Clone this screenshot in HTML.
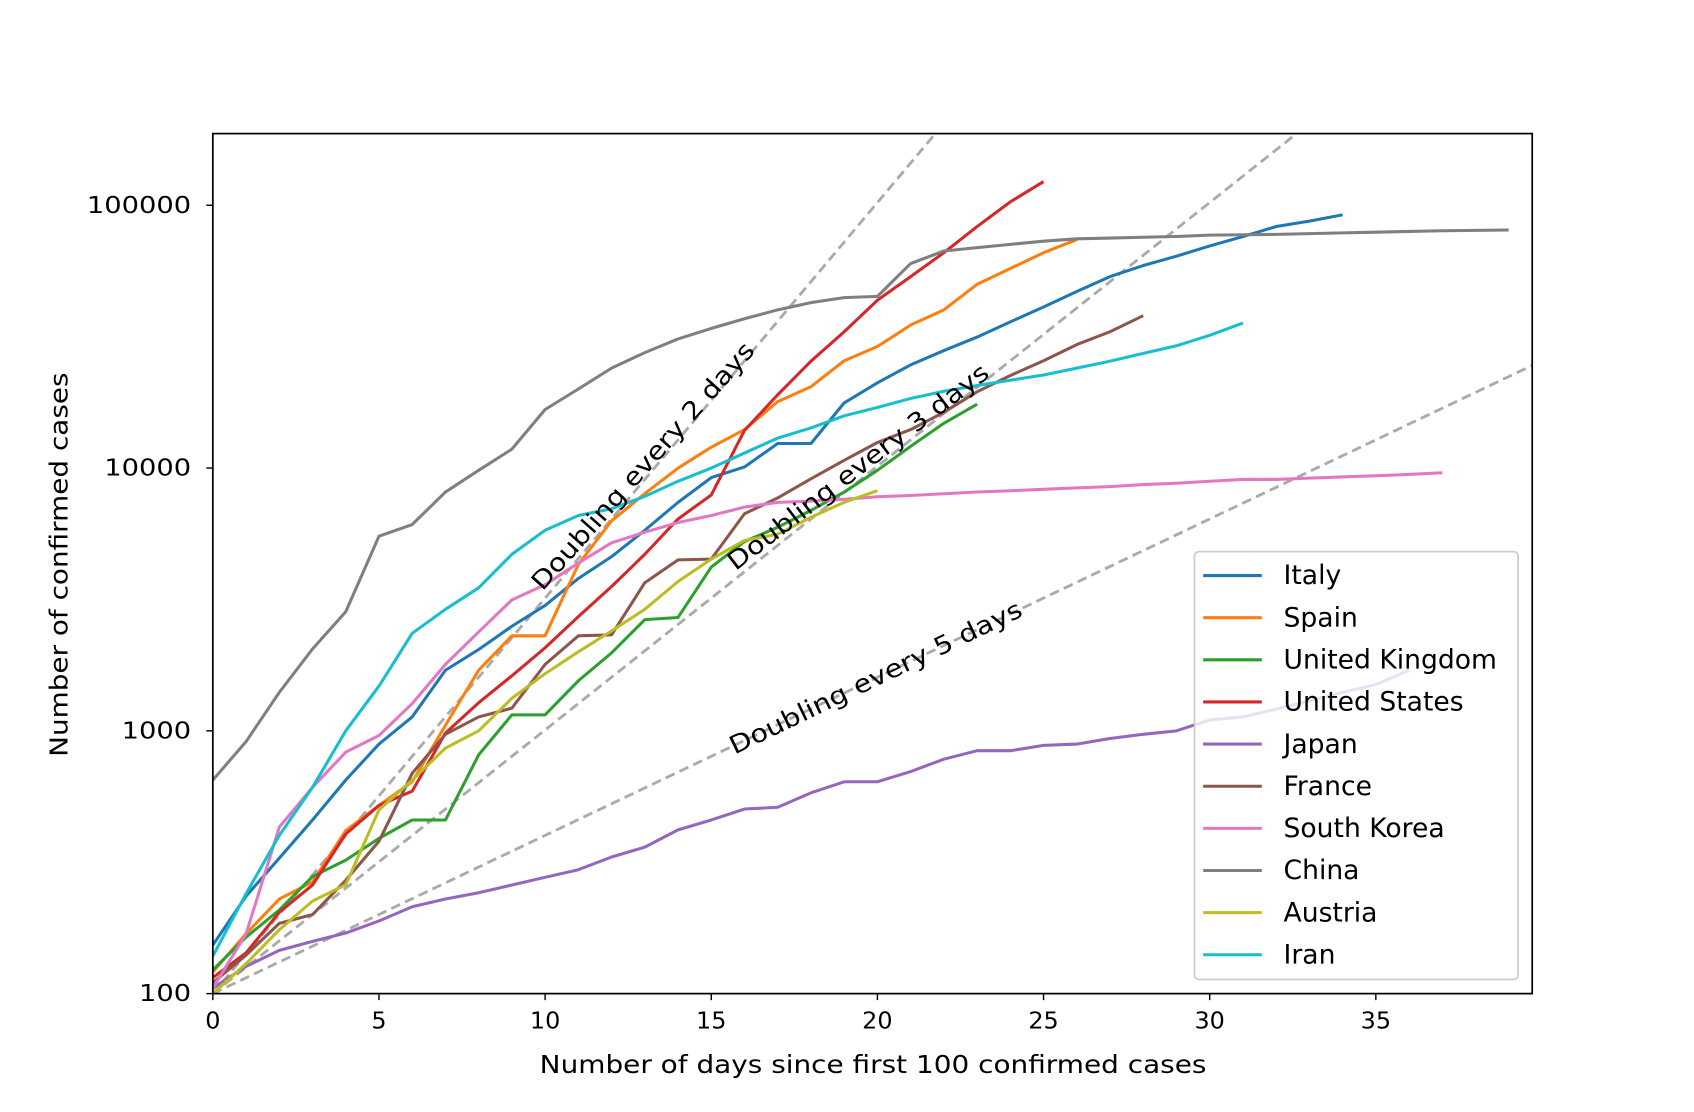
<!DOCTYPE html>
<html><head><meta charset="utf-8"><style>
html,body{margin:0;padding:0;background:#fff;}
svg{display:block;font-family:"DejaVu Sans","Liberation Sans",sans-serif;}
</style></head><body>
<svg id="chart" width="1694" height="1112" viewBox="0 0 1560 1024" xmlns="http://www.w3.org/2000/svg">
<rect width="1560" height="1024" fill="#fff"/>
<g id="plot"></g>
</svg>
<script>
const countries = ["Italy","Spain","United Kingdom","United States","Japan","France","South Korea","China","Austria","Iran"];
const colors = ["#1f77b4","#ff7f0e","#2ca02c","#d62728","#9467bd","#8c564b","#e377c2","#7f7f7f","#bcbd22","#17becf"];
const italy = [153,235,328,458,650,890,1130,1700,2040,2500,3000,3800,4600,5800,7400,9200,10100,12400,12400,17700,21100,24700,28000,31500,36000,41000,47000,53500,59000,64000,70000,76000,83000,87000,92000];
const spain = [121,169,229,266,417,520,640,1050,1700,2300,2300,4300,6300,8000,10000,12000,14000,17900,20400,25600,29000,35000,40000,50000,57500,66000,74000];
const uk = [123,164,208,279,322,390,458,458,810,1150,1150,1550,1980,2650,2700,4200,5250,5950,6900,8100,9800,12100,14800,17500];
const us = [115,143,204,259,405,520,590,980,1280,1620,2070,2720,3540,4700,6400,7900,13900,19000,25500,33000,43500,53500,66000,83000,103000,123000];
const japan = [105,127,146,158,170,189,214,229,242,259,277,296,331,361,420,458,504,512,581,640,640,700,780,840,840,880,890,935,970,1000,1100,1130,1210,1300,1400,1500,1700];
const france = [110,140,185,200,270,380,690,970,1130,1220,1790,2300,2320,3660,4470,4500,6700,7700,9100,10700,12500,14000,16300,19500,22500,25600,29500,33000,38000];
const korea = [105,169,430,610,830,960,1270,1790,2380,3150,3600,4350,5190,5700,6200,6600,7100,7400,7480,7600,7780,7860,7980,8100,8200,8300,8400,8500,8650,8750,8900,9050,9050,9150,9250,9350,9450,9600];
const china = [650,910,1400,2050,2840,5500,6100,8100,9800,11800,16700,20000,24000,27500,31000,34000,37000,40000,42600,44500,45000,60000,67000,69000,71000,73000,74500,75000,75500,76000,77000,77200,77500,78000,78500,79000,79500,80000,80300,80500];
const austria = [100,130,175,225,260,500,650,860,1000,1330,1650,2000,2400,2900,3700,4500,5300,5600,6500,7400,8200];
const iran = [139,240,400,610,1000,1480,2350,2900,3500,4700,5800,6600,7000,7800,8900,10000,11400,13000,14200,15800,17000,18400,19600,20600,21600,22600,24000,25500,27300,29200,32000,35600];
const series = [italy,spain,uk,us,japan,france,korea,china,austria,iran];
const xTicks = [0,5,10,15,20,25,30,35];
const yTicks = [100,1000,10000,100000];
const yTickLabels = ["100","1000","10000","100000"];
const doublingDays = [2,3,5];

const L=196,R=1411,T=123,B=915;
const pxPerDay=30.6, pxPerDecade=242;
const xs = d => L + d*pxPerDay;
const ys = v => B - (Math.log10(v)-2)*pxPerDecade;
const NS="http://www.w3.org/2000/svg";
const plot=document.getElementById('plot');
function mk(tag,attrs,parent){const e=document.createElementNS(NS,tag);for(const k in attrs)e.setAttribute(k,attrs[k]);(parent||plot).appendChild(e);return e;}

const defs=mk('defs',{});
const cp=mk('clipPath',{id:'clip'},defs);
mk('rect',{x:L,y:T,width:R-L,height:B-T},cp);
const g=mk('g',{'clip-path':'url(#clip)'});

doublingDays.forEach(n=>{
  const xmax=40;
  const ln=mk('line',{x1:xs(0),y1:ys(100),x2:xs(xmax),y2:ys(100*Math.pow(2,xmax/n)),stroke:'#aaaaaa','stroke-width':2.6,'stroke-dasharray':'9,5'},g);
  
  
});

series.forEach((arr,i)=>{
  const pts=arr.map((v,d)=>xs(d).toFixed(1)+','+ys(v).toFixed(1)).join(' ');
  const pl=mk('polyline',{points:pts,fill:'none',stroke:colors[i],'stroke-width':2.8,'stroke-linejoin':'round'},g);
  
  
});

const lbls=[["Doubling every 2 days",593,430,-48.4],["Doubling every 3 days",791,431,-37.4],["Doubling every 5 days",807,625,-25.7]];
lbls.forEach((l,i)=>{
  const t=mk('text',{x:l[1],y:l[2],'font-size':23,'text-anchor':'middle','dominant-baseline':'middle',textLength:296,lengthAdjust:'spacingAndGlyphs',transform:`rotate(${l[3]} ${l[1]} ${l[2]})`,fill:'#000'});
  t.textContent=l[0];
  
  
});

const fr=mk('rect',{x:L,y:T,width:R-L,height:B-T,fill:'none',stroke:'#000','stroke-width':1.6});



xTicks.forEach(d=>{
  mk('line',{x1:xs(d),y1:B,x2:xs(d),y2:B+6,stroke:'#000','stroke-width':1.3});
  const s=String(d);
  const t=mk('text',{x:xs(d),y:B+32,'font-size':21,'text-anchor':'middle',textLength:14*s.length,lengthAdjust:'spacingAndGlyphs',fill:'#000'});
  t.textContent=s;
  
  
});
yTicks.forEach((v,i)=>{
  mk('line',{x1:L-6,y1:ys(v),x2:L,y2:ys(v),stroke:'#000','stroke-width':1.3});
  const s=yTickLabels[i];
  const t=mk('text',{x:L-20,y:ys(v)+7,'font-size':21,'text-anchor':'end',textLength:16*s.length,lengthAdjust:'spacingAndGlyphs',fill:'#000'});
  t.textContent=s;
  
  
});
const xt=mk('text',{x:804,y:988,'font-size':23,'text-anchor':'middle',textLength:614,lengthAdjust:'spacingAndGlyphs',fill:'#000'});
xt.textContent='Number of days since first 100 confirmed cases';


const yt=mk('text',{x:62,y:520,'font-size':23,'text-anchor':'middle',textLength:354,lengthAdjust:'spacingAndGlyphs',transform:`rotate(-90 62 520)`,fill:'#000'});
yt.textContent='Number of confirmed cases';



const lg=mk('g',{});


mk('rect',{x:1100,y:508,width:298,height:394,rx:4,fill:'rgba(255,255,255,0.8)',stroke:'#cccccc','stroke-width':1.6},lg);
countries.forEach((c,i)=>{
  const y=530+i*38.8;
  mk('line',{x1:1108,y1:y,x2:1162,y2:y,stroke:colors[i],'stroke-width':2.8},lg);
  const t=mk('text',{x:1182,y:y+8,'font-size':24.5,fill:'#000'},lg);
  t.textContent=c;
  
  
});
</script>
</body></html>
